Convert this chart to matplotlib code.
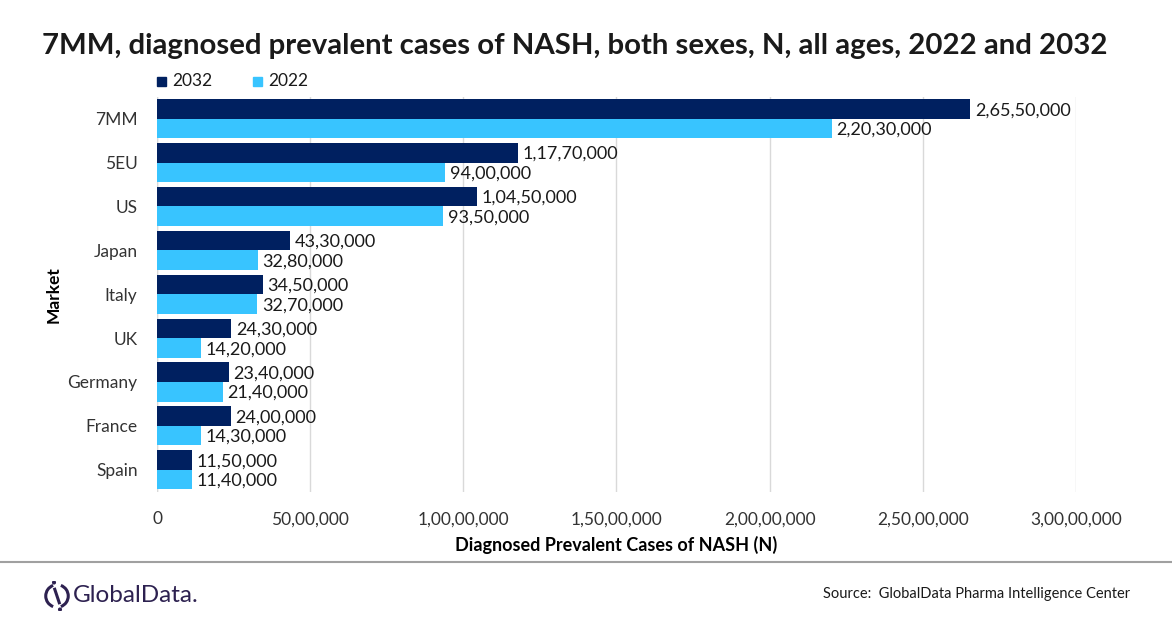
import matplotlib.pyplot as plt
import matplotlib.ticker as mticker
from matplotlib.patches import Rectangle, Circle, Arc
from matplotlib.lines import Line2D
import numpy as np

markets = ["7MM", "5EU", "US", "Japan", "Italy", "UK", "Germany", "France", "Spain"]
cases_2032 = [26550000, 11770000, 10450000, 4330000, 3450000, 2430000, 2340000, 2400000, 1150000]
cases_2022 = [22030000, 9400000, 9350000, 3280000, 3270000, 1420000, 2140000, 1430000, 1140000]

DARK = "#002060"
LIGHT = "#38C4FF"
plt.rcParams["font.family"] = ["Lato", "DejaVu Sans"]


def indian(n):
    # lakh/crore grouping: 2,65,50,000
    s = str(int(round(n)))
    if len(s) <= 3:
        return s
    head, tail = s[:-3], s[-3:]
    parts = []
    while len(head) > 2:
        parts.insert(0, head[-2:])
        head = head[:-2]
    if head:
        parts.insert(0, head)
    return ",".join(parts) + "," + tail


fig = plt.figure(figsize=(11.72, 6.28), dpi=100)
ax = fig.add_axes([0.134, 0.217, 0.784, 0.629])

y = np.arange(len(markets))
h = 0.445
b1 = ax.barh(y - h / 2, cases_2032, height=h, color=DARK, label="2032", zorder=3)
b2 = ax.barh(y + h / 2, cases_2022, height=h, color=LIGHT, label="2022", zorder=3)

for bars in (b1, b2):
    for r in bars:
        ax.text(r.get_width() + 150000, r.get_y() + r.get_height() / 2 + 0.03, indian(r.get_width()),
                va="center", ha="left", fontsize=13, color="#1a1a1a")

ax.set_xlim(0, 30000000)
ax.set_ylim(len(markets) - 0.5, -0.5)
ax.set_yticks(y)
ax.set_yticklabels(markets, fontsize=12.5, color="#333333")
ax.xaxis.set_major_locator(mticker.MultipleLocator(5000000))
ax.xaxis.set_major_formatter(mticker.FuncFormatter(lambda v, p: indian(v)))
ax.tick_params(axis="x", labelsize=12.5, colors="#333333", length=0, pad=14)
ax.tick_params(axis="y", length=0, pad=14)
ax.grid(axis="x", color="#d9d9d9", linewidth=1, zorder=0)
for s in ax.spines.values():
    s.set_visible(False)
ax.axvline(0, color="#d9d9d9", linewidth=1, zorder=0)

ax.set_xlabel("Diagnosed Prevalent Cases of NASH (N)", fontsize=13, fontweight="bold", labelpad=6)
ax.set_ylabel("Market", fontsize=12.5, fontweight="bold", labelpad=4)

fig.text(0.49, 0.927, "7MM, diagnosed prevalent cases of NASH, both sexes, N, all ages, 2022 and 2032",
         ha="center", va="center", fontsize=21.2, fontweight="bold", color="#1a1a1a")

# legend
fig.patches.append(Rectangle((157 / 1172, 1 - 86 / 628), 9 / 1172, 9 / 628, color=DARK,
                             transform=fig.transFigure, figure=fig))
fig.text(172 / 1172, 1 - 81 / 628, "2032", fontsize=12.5, va="center", color="#1a1a1a")
fig.patches.append(Rectangle((253 / 1172, 1 - 86 / 628), 9 / 1172, 9 / 628, color=LIGHT,
                             transform=fig.transFigure, figure=fig))
fig.text(268 / 1172, 1 - 81 / 628, "2022", fontsize=12.5, va="center", color="#1a1a1a")

# footer
fig.add_artist(Line2D([0, 1], [1 - 562 / 628, 1 - 562 / 628], color="#a0a0a0", linewidth=1.5,
                      transform=fig.transFigure))
logo = "#2d2150"
lax = fig.add_axes([42 / 1172, 1 - 611 / 628, 30 / 1172, 30 / 628])
lax.set_xlim(-1, 1)
lax.set_ylim(-1, 1)
lax.set_aspect("equal")
lax.axis("off")
lax.add_patch(Arc((0, 0), 1.5, 1.5, theta1=110, theta2=250, color=logo, linewidth=2.2))
lax.add_patch(Arc((0, 0), 1.5, 1.5, theta1=290, theta2=70, color=logo, linewidth=2.2))
lax.plot([-0.15, 0.15], [0.45, -0.45], color=logo, linewidth=2.2)
lax.add_patch(Circle((-0.2, 0.9), 0.09, color=logo))
lax.add_patch(Circle((0.2, -0.9), 0.09, color=logo))
fig.text(73 / 1172, 1 - 596 / 628, "GlobalData.", fontsize=17.5, va="center", color=logo)
fig.text(1130 / 1172, 1 - 594 / 628, "Source:  GlobalData Pharma Intelligence Center", fontsize=10.5,
         ha="right", va="center", color="#1a1a1a")

fig.savefig("out.png", dpi=100)
